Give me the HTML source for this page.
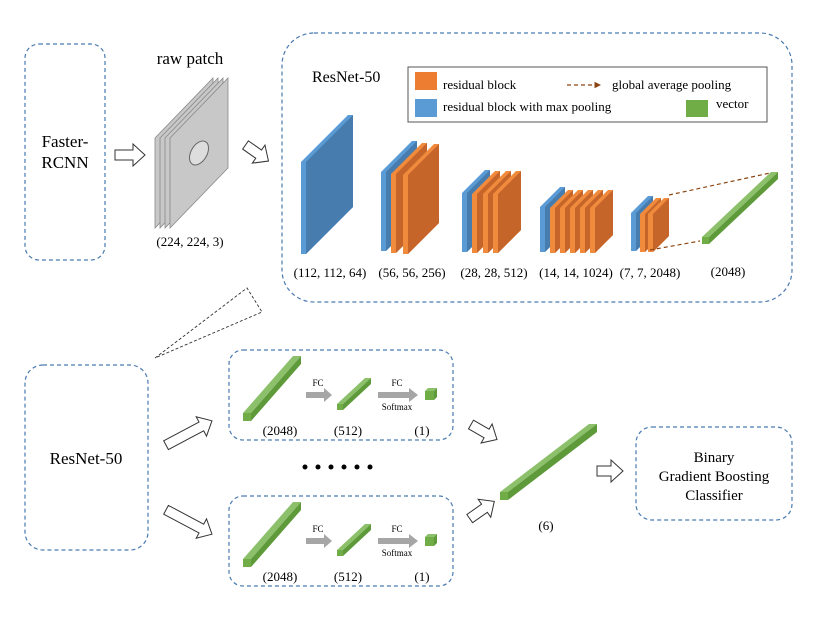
<!DOCTYPE html>
<html><head><meta charset="utf-8"><style>
html,body{margin:0;padding:0;background:#fff;}
svg{display:block;font-family:"Liberation Serif",serif;}
</style></head><body>
<svg id="s" width="830" height="623" viewBox="0 0 830 623" xmlns="http://www.w3.org/2000/svg">
<defs>
<marker id="ah" markerWidth="6" markerHeight="6" refX="5" refY="3" orient="auto"><path d="M0,0.5 L5,3 L0,5.5z" fill="#8B4513"/></marker>
</defs>
<g fill="none" stroke="#4a7ab0" stroke-width="1.2" stroke-dasharray="4,3">
<rect x="25" y="44" width="80" height="216" rx="14"/>
<rect x="282" y="33" width="510" height="269" rx="32"/>
<rect x="25" y="365" width="123" height="185" rx="18"/>
<rect x="229" y="350" width="224" height="90" rx="14"/>
<rect x="229" y="496" width="224" height="90" rx="14"/>
<rect x="636" y="427" width="156" height="93" rx="16"/>
</g>
<g fill="#000" font-size="17" text-anchor="middle">
<text x="65" y="147">Faster-</text><text x="65" y="168">RCNN</text>
<text x="190" y="64">raw patch</text>
<text x="86" y="464">ResNet-50</text>
<text x="714" y="462" font-size="15">Binary</text>
<text x="714" y="481" font-size="15">Gradient Boosting</text>
<text x="714" y="500" font-size="15">Classifier</text>
</g>
<text x="312" y="82" font-size="16">ResNet-50</text>
<rect x="408" y="67" width="359" height="55" fill="#fff" stroke="#555" stroke-width="1"/>
<rect x="415" y="72" width="22" height="18" fill="#ED7D31"/>
<rect x="415" y="99" width="22" height="18" fill="#5B9BD5"/>
<rect x="686" y="100" width="22" height="17" fill="#70AD47"/>
<g font-size="13" fill="#000">
<text x="443" y="89">residual block</text>
<text x="443" y="111">residual block with max pooling</text>
<text x="612" y="89">global average pooling</text>
<text x="716" y="108">vector</text>
</g>
<line x1="567" y1="85" x2="601" y2="85" stroke="#8B4513" stroke-width="1.3" stroke-dasharray="4,3" marker-end="url(#ah)"/>
<g id="slabs"></g>
<line x1="669" y1="195" x2="770" y2="173" stroke="#8B4513" stroke-width="1.2" stroke-dasharray="4,3"/>
<line x1="650" y1="250" x2="700" y2="241" stroke="#8B4513" stroke-width="1.2" stroke-dasharray="4,3"/>
<g font-size="13" fill="#000" text-anchor="middle">
<text x="330" y="277">(112, 112, 64)</text>
<text x="412" y="277">(56, 56, 256)</text>
<text x="494" y="277">(28, 28, 512)</text>
<text x="576" y="277">(14, 14, 1024)</text>
<text x="650" y="277">(7, 7, 2048)</text>
<text x="728" y="276">(2048)</text>
<text x="190" y="246">(224, 224, 3)</text>
<text x="280" y="435">(2048)</text>
<text x="348" y="435">(512)</text>
<text x="422" y="435">(1)</text>
<text x="280" y="581">(2048)</text>
<text x="348" y="581">(512)</text>
<text x="422" y="581">(1)</text>
<text x="546" y="530">(6)</text>
</g>
<g fill="#000">
<circle cx="305" cy="467" r="2.5"/><circle cx="318" cy="467" r="2.5"/><circle cx="331" cy="467" r="2.5"/>
<circle cx="344" cy="467" r="2.5"/><circle cx="357" cy="467" r="2.5"/><circle cx="370" cy="467" r="2.5"/>
</g>
<polygon points="155,358 247,288 262,312" fill="none" stroke="#333" stroke-width="0.9" stroke-dasharray="3,2"/>
<g id="arrows" fill="#fff" stroke="#333" stroke-width="1"></g>
<g id="fc"></g>
</svg>
<script>
var NS="http://www.w3.org/2000/svg";
function P(par,pts,fill,extra){var p=document.createElementNS(NS,"polygon");p.setAttribute("points",pts.map(function(a){return a.join(",")}).join(" "));p.setAttribute("fill",fill);if(extra)for(var k in extra)p.setAttribute(k,extra[k]);par.appendChild(p);return p;}
var g=document.getElementById("slabs");
function slab(x,yb,h,d,light,dark){
 P(g,[[x-5,yb-h],[x-5+d,yb-h-d],[x+d,yb-h-d],[x+d,yb-d],[x,yb],[x-5,yb]],light);
 P(g,[[x,yb-h],[x+d,yb-h-d],[x+d,yb-d],[x,yb]],dark);
}
var BL="#5B9BD5",BD="#467DAE",OL="#F08A3C",OD="#C5652A";
slab(306,254,92,47,BL,BD);
slab(386,251,79,31,BL,BD);slab(396,253,79,31,OL,OD);slab(408,254,79,31,OL,OD);
slab(467,252,59,23,BL,BD);[477,488,498].forEach(function(x){slab(x,253,59,23,OL,OD)});
slab(545,252,45,20,BL,BD);[555,565,575,585,595].forEach(function(x){slab(x,253,45,18,OL,OD)});
slab(636,251,38,17,BL,BD);[645,653].forEach(function(x){slab(x,252,38,16,OL,OD)});
[155,160,165,170].forEach(function(x,i){
 P(g,[[x,138],[x+58,78],[x+58,168],[x,228]],"#c8c8c8",{stroke:"#888","stroke-width":"0.8"});
});
var e=document.createElementNS(NS,"ellipse");e.setAttribute("cx",199);e.setAttribute("cy",153);e.setAttribute("rx",8);e.setAttribute("ry",13);e.setAttribute("transform","rotate(30 199 153)");e.setAttribute("fill","#ddd");e.setAttribute("stroke","#666");g.appendChild(e);
function bar(par,x1,y1,x2,y2,t){
 P(par,[[x1,y1-t],[x2-t,y2],[x2,y2],[x1+t,y1-t]],"#8CC06A");
 P(par,[[x1,y1-t],[x1+t,y1-t],[x1+t,y1],[x1,y1]],"#70AD47");
 P(par,[[x1+t,y1-t],[x2,y2],[x2,y2+t],[x1+t,y1]],"#5E9A3A");
}
bar(g,702,244,778,172,7);
var f=document.getElementById("fc");
function cube(x,y,s,d){ // front face top-left x,y size s depth d
 P(f,[[x,y],[x+d,y-d],[x+s+d,y-d],[x+s,y]],"#8CC06A");
 P(f,[[x+s,y],[x+s+d,y-d],[x+s+d,y+s-d],[x+s,y+s]],"#5E9A3A");
 P(f,[[x,y],[x+s,y],[x+s,y+s],[x,y+s]],"#70AD47");
}
[0,146].forEach(function(o){
 bar(f,243,421+o,301,356+o,8);
 bar(f,337,410+o,371,378+o,6);
 cube(425,391+o,9,3);
 P(f,[[306,392+o],[324,392+o],[324,388+o],[332,395+o],[324,402+o],[324,398+o],[306,398+o]],"#A6A6A6");
 P(f,[[378,392+o],[409,392+o],[409,388+o],[418,395+o],[409,402+o],[409,398+o],[378,398+o]],"#A6A6A6");
 [["FC",318,386],["FC",397,386],["Softmax",397,410]].forEach(function(t){var tx=document.createElementNS(NS,"text");tx.setAttribute("x",t[1]);tx.setAttribute("y",t[2]+o);tx.setAttribute("font-size","9");tx.setAttribute("text-anchor","middle");tx.textContent=t[0];f.appendChild(tx);});
});
bar(f,500,500,597,424,8);
var A=document.getElementById("arrows");
function harrow(cx,cy,len,ang){
 var L=len,w=5,hw=11,hl=12;
 var pts=[[-L/2,-w],[L/2-hl,-w],[L/2-hl,-hw],[L/2,0],[L/2-hl,hw],[L/2-hl,w],[-L/2,w]];
 var p=P(A,pts,"#fff");p.setAttribute("transform","translate("+cx+","+cy+") rotate("+ang+")");
}
harrow(130,155,30,0);
harrow(257,153,28,35);
harrow(189,433,52,-28);
harrow(189,522,52,28);
harrow(484,432,30,30);
harrow(482,510,30,-35);
harrow(610,471,26,0);
</script>
</body></html>
